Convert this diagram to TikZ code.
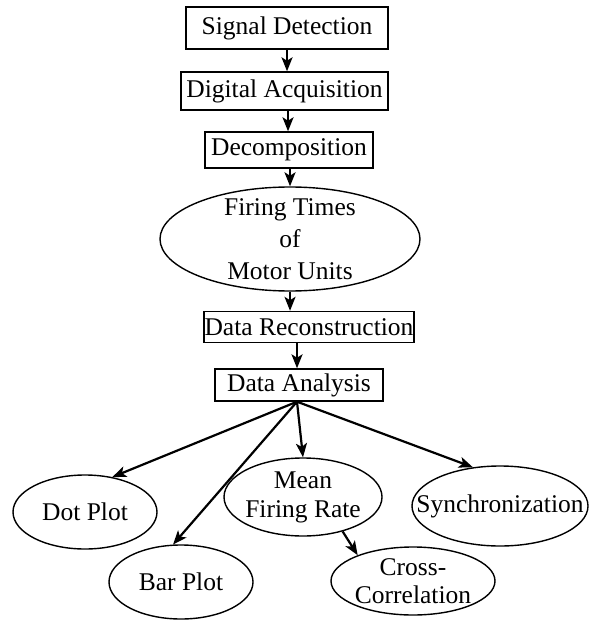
\documentclass[tikz,border=0pt]{standalone}
\usepackage{fontspec}
\setmainfont{Liberation Serif}
\usetikzlibrary{shapes.geometric,arrows.meta}
\begin{document}
\begin{tikzpicture}[x=1pt,y=-1pt,
  txt/.style={font=\fontsize{25.5}{29}\selectfont,align=center,inner sep=0pt},
  box/.style={txt,draw,line width=1.4pt},
  oval/.style={draw,ellipse,line width=1.4pt,inner sep=0pt},
  arr/.style={line width=2.2pt,-{Stealth[length=14pt,width=11pt,inset=3.5pt]}}]
\useasboundingbox (0,0) rectangle (597,620);
% chain
\node[box,minimum width=202pt,minimum height=42pt] (sd) at (287,28) {Signal Detection};
\node[box,minimum width=207pt,minimum height=38pt] (dq) at (284.5,91) {Digital Acquisition};
\node[box,minimum width=168pt,minimum height=36pt] (dc) at (289,150) {Decomposition};
\node[oval,minimum width=260pt,minimum height=104pt] (ft) at (290,239) {};
\node[txt,font=\fontsize{25.5}{32}\selectfont] (ftt) at (ft) {Firing Times\\of\\Motor Units};
\node[box,minimum width=210pt,minimum height=31pt] (dr) at (309,327) {Data Reconstruction};
\node[box,minimum width=168pt,minimum height=32pt] (da) at (299,385) {Data Analysis};
% outputs
\node[oval,minimum width=144pt,minimum height=74pt] (dot) at (85,512) {};
\node[txt] (dott) at (dot) {Dot Plot};
\node[oval,minimum width=144pt,minimum height=74pt] (bar) at (181,582) {};
\node[txt] (bart) at (bar) {Bar Plot};
\node[oval,minimum width=158pt,minimum height=78pt] (mfr) at (303,497) {};
\node[txt] (mfrt) at (mfr) {Mean\\Firing Rate};
\node[oval,minimum width=176pt,minimum height=80pt] (syn) at (500,506) {};
\node[txt] (synt) at (syn) {Synchronization};
\node[oval,minimum width=164pt,minimum height=68pt] (cc) at (413,581) {};
\node[txt,font=\fontsize{25.5}{28}\selectfont] (cct) at (cc) {Cross-\\Correlation};
% vertical connectors
\coordinate (x1) at (287,0);
\coordinate (x2) at (288,0);
\coordinate (x3) at (290,0);
\coordinate (x5) at (297,0);
\draw[arr] (sd.south -| x1) -- (dq.north -| x1);
\draw[arr] (dq.south -| x2) -- (dc.north -| x2);
\draw[arr] (dc.south -| x3) -- (ft.north);
\draw[arr] (ft.south) -- (dr.north -| ft.south);
\draw[arr] (dr.south -| x5) -- (da.north -| x5);
% fan out
\coordinate (o) at (da.south -| x5);
\draw[arr] (o) -- (dot.52);
\draw[arr] (o) -- (bar.102);
\draw[arr] (o) -- (mfr.north);
\draw[arr] (o) -- (syn.125);
\draw[arr] (mfr.-41) -- (cc.155);
\end{tikzpicture}
\end{document}
